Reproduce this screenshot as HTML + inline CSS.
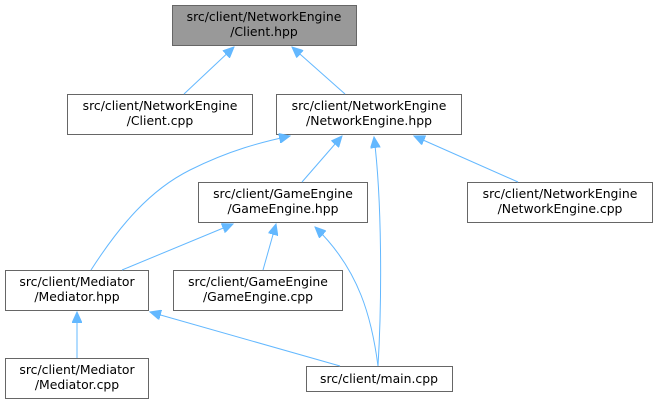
<!DOCTYPE html>
<html><head><style>
html,body{margin:0;padding:0;background:#fff;width:655px;height:403px;overflow:hidden}
text{font-family:"DejaVu Sans","Liberation Sans",sans-serif;font-size:12.4px;fill:#000}
rect{stroke:#666;stroke-width:1}
path{fill:none;stroke:#63b8ff;stroke-width:1}
</style></head><body>
<svg width="655" height="403" viewBox="0 0 655 403">
<defs><marker id="a" markerWidth="12" markerHeight="10" refX="11" refY="5" orient="auto" markerUnits="userSpaceOnUse"><polygon points="0,0 11,5 0,10" fill="#63b8ff" stroke="#63b8ff"/></marker></defs>
<rect x="172.5" y="5.5" width="184" height="40" fill="#999"/>
<text x="264" y="21" text-anchor="middle">src/client/NetworkEngine</text><text x="264" y="36" text-anchor="middle">/Client.hpp</text>
<rect x="67.5" y="94.5" width="185" height="40" fill="#fff"/>
<text x="160" y="110" text-anchor="middle">src/client/NetworkEngine</text><text x="160" y="125" text-anchor="middle">/Client.cpp</text>
<rect x="276.5" y="94.5" width="185" height="40" fill="#fff"/>
<text x="369" y="110" text-anchor="middle">src/client/NetworkEngine</text><text x="369" y="125" text-anchor="middle">/NetworkEngine.hpp</text>
<rect x="198.5" y="182.5" width="169" height="40" fill="#fff"/>
<text x="283" y="198" text-anchor="middle">src/client/GameEngine</text><text x="283" y="213" text-anchor="middle">/GameEngine.hpp</text>
<rect x="467.5" y="182.5" width="185" height="40" fill="#fff"/>
<text x="560" y="198" text-anchor="middle">src/client/NetworkEngine</text><text x="560" y="213" text-anchor="middle">/NetworkEngine.cpp</text>
<rect x="5.5" y="270.5" width="143" height="40" fill="#fff"/>
<text x="77" y="286" text-anchor="middle">src/client/Mediator</text><text x="77" y="301" text-anchor="middle">/Mediator.hpp</text>
<rect x="173.5" y="270.5" width="169" height="40" fill="#fff"/>
<text x="258" y="286" text-anchor="middle">src/client/GameEngine</text><text x="258" y="301" text-anchor="middle">/GameEngine.cpp</text>
<rect x="5.5" y="358.5" width="143" height="40" fill="#fff"/>
<text x="77" y="374" text-anchor="middle">src/client/Mediator</text><text x="77" y="389" text-anchor="middle">/Mediator.cpp</text>
<rect x="306.5" y="366.5" width="146" height="25" fill="#fff"/>
<text x="379" y="383" text-anchor="middle">src/client/main.cpp</text>
<path marker-end="url(#a)" d="M184,94 L234,47"/>
<path marker-end="url(#a)" d="M345,94 L292,47"/>
<path marker-end="url(#a)" d="M302,182 L342,136"/>
<path marker-end="url(#a)" d="M91,270 C120,225 150,190 190,170 C230,150 262,142 290,136"/>
<path marker-end="url(#a)" d="M378,366 C382,300 382,200 374,137"/>
<path marker-end="url(#a)" d="M518,182 L414,136"/>
<path marker-end="url(#a)" d="M122,270 L233,224"/>
<path marker-end="url(#a)" d="M263,270 L276,224"/>
<path marker-end="url(#a)" d="M378,366 C372,320 360,270 315,227"/>
<path marker-end="url(#a)" d="M77,358 L77,312"/>
<path marker-end="url(#a)" d="M340,366 L150,312"/>
</svg>
</body></html>
